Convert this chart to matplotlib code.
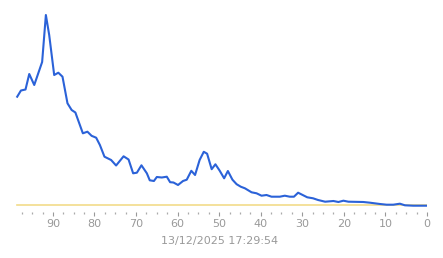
import matplotlib
matplotlib.use('Agg')
import matplotlib.pyplot as plt
import numpy as np
from matplotlib.ticker import FixedLocator

# values (x runs from ~99 down to 0)
xs = [98.6, 97.7, 96.6, 95.7, 94.5, 92.6, 91.7, 90.9, 89.7, 88.7,
      87.7, 86.5, 85.5, 84.6, 82.8, 81.7, 80.7, 79.6, 78.7, 77.6,
      76.0, 74.8, 73.0, 71.8, 70.7, 69.8, 68.7, 67.4, 66.7, 65.7,
      65.0, 63.8, 62.6, 61.8, 61.0, 59.9, 58.7, 57.8, 56.7, 55.8,
      54.7, 53.7, 52.9, 51.8, 50.9, 49.9, 48.8, 47.9, 46.8, 45.8,
      44.8, 43.8, 42.2, 41.0, 39.8, 38.6, 37.4, 35.4, 34.2, 33.0,
      32.0, 31.0, 29.9, 28.8, 27.4, 26.2, 24.5, 22.5, 21.3, 20.1,
      18.9, 15.3, 13.7, 11.3, 9.7, 8.1, 6.5, 5.3, 3.3, 0.0]
ys = [108.3, 114.5, 115.5, 131.0, 120.0, 143.0, 190.0, 170.0, 130.0, 132.3,
      128.3, 101.7, 95.0, 92.5, 71.7, 73.3, 69.2, 67.3, 60.0, 48.3,
      45.0, 39.5, 48.7, 45.5, 31.7, 32.3, 39.7, 31.7, 24.7, 24.0,
      28.0, 27.5, 28.3, 22.8, 22.5, 20.0, 24.0, 25.3, 34.2, 30.0,
      45.0, 53.2, 51.3, 35.8, 40.7, 34.5, 26.7, 34.0, 25.3, 20.8,
      18.3, 16.7, 12.7, 11.7, 9.3, 10.0, 8.3, 8.3, 9.3, 8.3,
      8.3, 12.3, 10.0, 7.7, 6.7, 5.0, 3.3, 4.0, 3.0, 4.3,
      3.3, 3.0, 2.3, 1.0, 0.3, 0.3, 1.3, -0.3, -0.7, -0.7]
baseline = 0.0
major_ticks = [0, 10, 20, 30, 40, 50, 60, 70, 80, 90]
date_label = '13/12/2025 17:29:54'

fig = plt.figure(figsize=(4.43, 2.58), dpi=100)
ax = fig.add_axes([0.0257, 0.1783, 0.938, 0.8023])

ax.plot([xs[0], xs[-1]], [baseline, baseline], color='#f2dc8a', lw=1.2, zorder=1)
ax.plot(xs, ys, color='#2b62d8', lw=1.5, solid_joinstyle='round', zorder=2)

ax.set_xlim(100, 0)
ax.set_ylim(-7, 200)

for s in ax.spines.values():
    s.set_visible(False)
ax.set_yticks([])
ax.xaxis.set_major_locator(FixedLocator(major_ticks))
ax.xaxis.set_minor_locator(FixedLocator(np.arange(2.5, 99, 2.5)))
ax.tick_params(axis='x', which='major', length=3.2, width=0.8, color='#999999',
               labelsize=8, labelcolor='#999999', pad=2)
ax.tick_params(axis='x', which='minor', length=1.5, width=0.9, color='#aaaaaa')
ax.set_xlabel(date_label, fontsize=8, color='#999999', labelpad=5)

fig.savefig('out.png', dpi=100)
